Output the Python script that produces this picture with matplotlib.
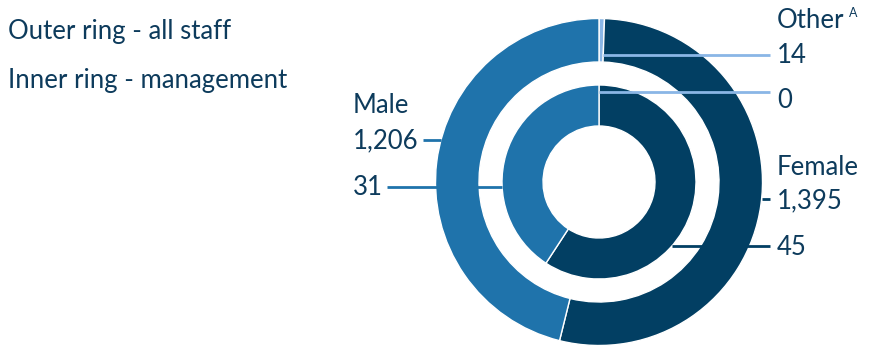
import numpy as np
import matplotlib.pyplot as plt

# ---------------- data ----------------
categories = ["Other", "Female", "Male"]
all_staff = [14, 1395, 1206]
management = [0, 45, 31]
colors = ["#8ab6e6", "#023f63", "#1f73ab"]
text_color = "#0d3b5c"

plt.rcParams["font.family"] = ["Lato", "DejaVu Sans"]

W, H = 876, 347
fig = plt.figure(figsize=(W / 100, H / 100), dpi=100)
ax = fig.add_axes([0, 0, 1, 1])

cx, cy = 599, H - 182
r_out, r_mid, r_in, r_hole = 163.5, 120, 97, 56

wedge_kw = dict(edgecolor="white", linewidth=1.0)
ax.pie(all_staff, colors=colors, startangle=90, counterclock=False,
       center=(cx, cy), radius=r_out, frame=True,
       wedgeprops=dict(width=r_out - r_mid, **wedge_kw))
ax.pie(management, colors=colors, startangle=90, counterclock=False,
       center=(cx, cy), radius=r_in, frame=True,
       wedgeprops=dict(width=r_in - r_hole, **wedge_kw))
ax.set_xlim(0, W)
ax.set_ylim(0, H)
ax.set_aspect("equal")
ax.axis("off")

fs = 18.5
def px(y):
    return H - y

def edge_x(y, r, side):
    dy = px(y) - cy
    return cx + side * np.sqrt(r ** 2 - dy ** 2)

lw = 2.0
txt = dict(fontsize=fs, color=text_color, va="baseline")
line = dict(lw=lw, solid_capstyle="butt")

# right side labels
rx = 777
ax.text(rx, px(28), "Other", **txt)
ax.text(849, px(17), "A", fontsize=9, color=text_color, va="baseline")
ax.plot([603, 770], [px(55), px(55)], color=colors[0], **line)
ax.text(rx, px(63), f"{all_staff[0]:,}", **txt)
ax.plot([cx, 770], [px(92), px(92)], color=colors[0], **line)
ax.text(rx, px(108), f"{management[0]:,}", **txt)

ax.text(rx, px(175), "Female", **txt)
ax.plot([edge_x(199, r_out, 1), 770], [px(199), px(199)], color=colors[1], **line)
ax.text(rx, px(208), f"{all_staff[1]:,}", **txt)
ax.plot([edge_x(246, r_in, 1), 770], [px(246), px(246)], color=colors[1], **line)
ax.text(rx, px(255), f"{management[1]:,}", **txt)

# left side labels
lx = 353
ax.text(lx, px(113), "Male", **txt)
ax.text(lx, px(148), f"{all_staff[2]:,}", **txt)
ax.plot([423, edge_x(140, r_out, -1)], [px(140), px(140)], color=colors[2], **line)
ax.text(lx, px(195), f"{management[2]:,}", **txt)
ax.plot([387, edge_x(187, r_in, -1)], [px(187), px(187)], color=colors[2], **line)

# ring legend
ax.text(8, px(39), "Outer ring - all staff", **txt)
ax.text(8, px(88), "Inner ring - management", **txt)

fig.savefig("out.png", dpi=100)
